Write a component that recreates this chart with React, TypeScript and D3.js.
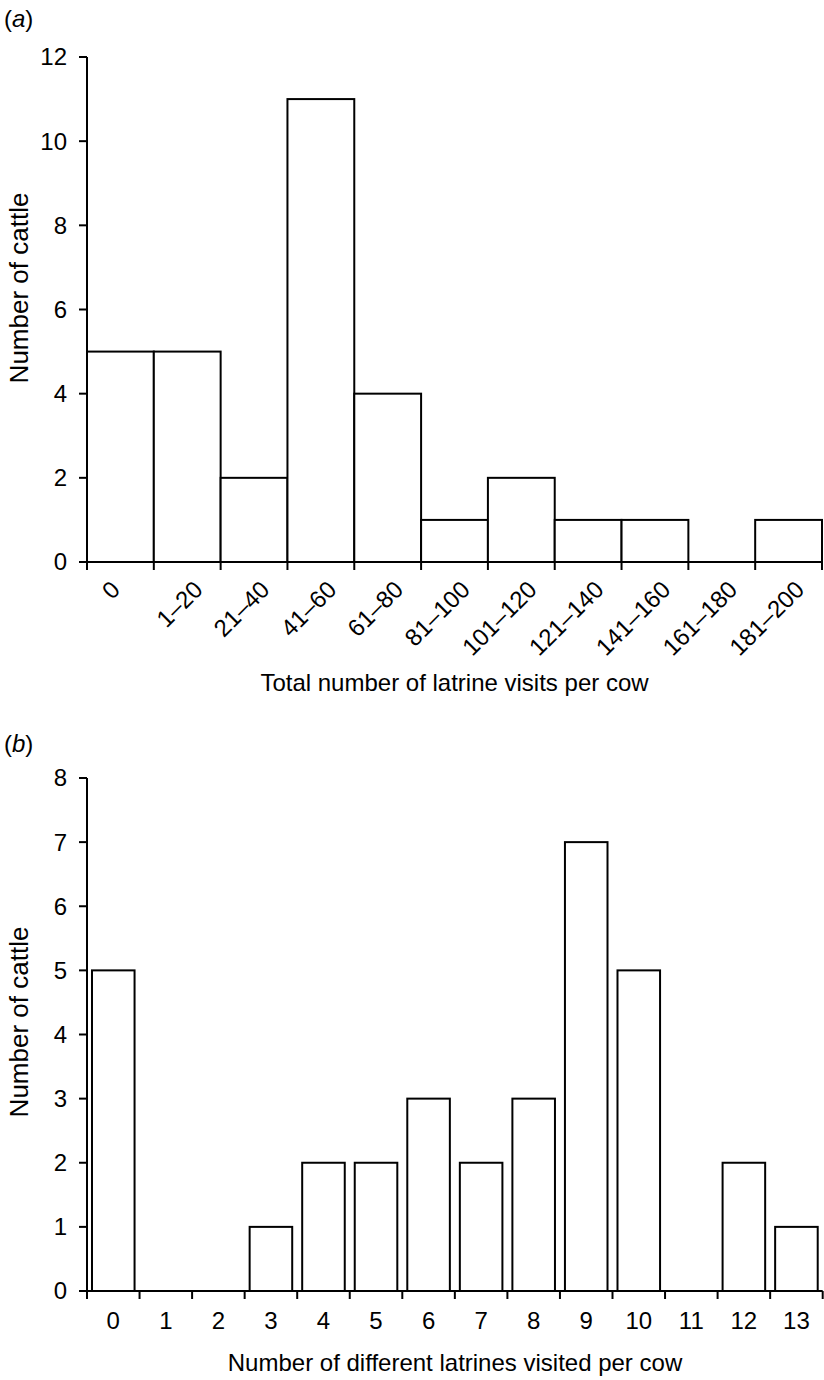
import React from "react";
import * as d3 from "d3";

const catsA = ["0", "1–20", "21–40", "41–60", "61–80", "81–100", "101–120", "121–140", "141–160", "161–180", "181–200"];
const valsA = [5, 5, 2, 11, 4, 1, 2, 1, 1, 0, 1];
const ticksA = [0, 2, 4, 6, 8, 10, 12];

const catsB = ["0", "1", "2", "3", "4", "5", "6", "7", "8", "9", "10", "11", "12", "13"];
const valsB = [5, 0, 0, 1, 2, 2, 3, 2, 3, 7, 5, 0, 2, 1];
const ticksB = [0, 1, 2, 3, 4, 5, 6, 7, 8];

const FONT = "'Liberation Sans', Arial, Helvetica, sans-serif";

export default function App() {
  const W = 824, H = 1380;
  const xA = d3.scaleBand<string>().domain(catsA).range([87, 822]).padding(0);
  const yA = d3.scaleLinear().domain([0, 12]).range([562, 57]);
  const xB = d3.scaleBand<string>().domain(catsB).range([87, 822.7]).padding(0);
  const yB = d3.scaleLinear().domain([0, 8]).range([1291, 778]);
  const stepA = xA.step();
  const stepB = xB.step();
  const boundsA = [...catsA.map((c) => xA(c) as number), 822];
  const boundsB = [...catsB.map((c) => xB(c) as number), 822.7];
  const sw = 2;
  const tick = 8;

  return (
    <svg width={W} height={H} style={{ position: "absolute", left: 0, top: 0, background: "#fff" }} fontFamily={FONT}>
      {/* Panel (a) */}
      <text x={4} y={27} fontSize={24} fill="#000">
        (<tspan fontStyle="italic">a</tspan>)
      </text>
      {valsA.map((v, i) =>
        v > 0 ? (
          <rect key={"a" + i} x={xA(catsA[i])} y={yA(v)} width={stepA} height={yA(0) - yA(v)} fill="#fff" stroke="#000" strokeWidth={sw} />
        ) : null
      )}
      <line x1={87} x2={87} y1={yA(12)} y2={yA(0)} stroke="#000" strokeWidth={sw} />
      {ticksA.map((t) => (
        <g key={"ya" + t}>
          <line x1={87 - tick} x2={87} y1={yA(t)} y2={yA(t)} stroke="#000" strokeWidth={sw} />
          <text x={67} y={yA(t)} dy="0.35em" textAnchor="end" fontSize={24} fill="#000">{t}</text>
        </g>
      ))}
      <line x1={87 - tick} x2={822} y1={yA(0)} y2={yA(0)} stroke="#000" strokeWidth={sw} />
      {boundsA.map((b, i) => (
        <line key={"xa" + i} x1={b} x2={b} y1={yA(0)} y2={yA(0) + tick} stroke="#000" strokeWidth={sw} />
      ))}
      {catsA.map((c) => {
        const cx = (xA(c) as number) + stepA / 2 + (c.length > 1 ? 17 : 1);
        const cy = 591;
        return (
          <text key={"la" + c} x={cx} y={cy} textAnchor="end" fontSize={24} fill="#000" transform={`rotate(-45 ${cx} ${cy})`}>{c}</text>
        );
      })}
      <text x={454.5} y={691} textAnchor="middle" fontSize={24} fill="#000">Total number of latrine visits per cow</text>
      <text transform={`translate(28 ${288}) rotate(-90)`} textAnchor="middle" fontSize={26} fill="#000">Number of cattle</text>

      {/* Panel (b) */}
      <text x={4} y={752} fontSize={24} fill="#000">
        (<tspan fontStyle="italic">b</tspan>)
      </text>
      {valsB.map((v, i) =>
        v > 0 ? (
          <rect key={"b" + i} x={(xB(catsB[i]) as number) + stepB * 0.095} y={yB(v)} width={stepB * 0.81} height={yB(0) - yB(v)} fill="#fff" stroke="#000" strokeWidth={sw} />
        ) : null
      )}
      <line x1={87} x2={87} y1={yB(8)} y2={yB(0)} stroke="#000" strokeWidth={sw} />
      {ticksB.map((t) => (
        <g key={"yb" + t}>
          <line x1={87 - tick} x2={87} y1={yB(t)} y2={yB(t)} stroke="#000" strokeWidth={sw} />
          <text x={67} y={yB(t)} dy="0.35em" textAnchor="end" fontSize={24} fill="#000">{t}</text>
        </g>
      ))}
      <line x1={87 - tick} x2={822.7} y1={yB(0)} y2={yB(0)} stroke="#000" strokeWidth={sw} />
      {boundsB.map((b, i) => (
        <line key={"xb" + i} x1={b} x2={b} y1={yB(0)} y2={yB(0) + tick} stroke="#000" strokeWidth={sw} />
      ))}
      {catsB.map((c) => (
        <text key={"lb" + c} x={(xB(c) as number) + stepB / 2} y={1329} textAnchor="middle" fontSize={24} fill="#000">{c}</text>
      ))}
      <text x={455} y={1371} textAnchor="middle" fontSize={24} fill="#000">Number of different latrines visited per cow</text>
      <text transform={`translate(28 ${1022}) rotate(-90)`} textAnchor="middle" fontSize={26} fill="#000">Number of cattle</text>
    </svg>
  );
}
